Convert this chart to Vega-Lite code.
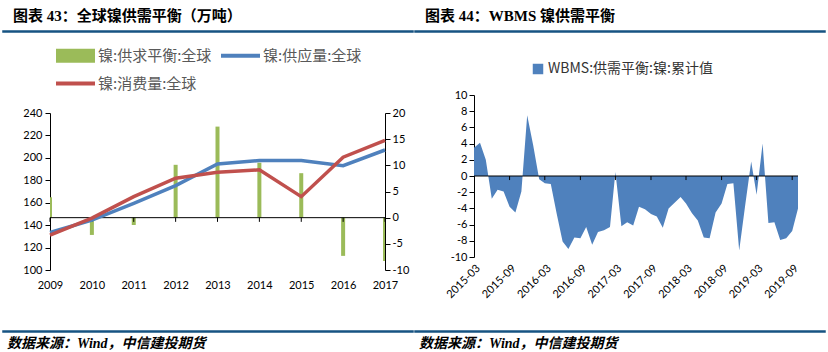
{
  "$schema": "https://vega.github.io/schema/vega-lite/v6.json",
  "background": "white",
  "padding": {"left": 2, "top": 8, "right": 0, "bottom": 0},
  "config": {
    "view": {"stroke": null},
    "axis": {"labelFont": "Lato", "labelFontSize": 11, "labelColor": "#000000", "domainColor": "#000000", "tickColor": "#000000", "grid": false, "domainWidth": 1, "tickWidth": 1},
    "title": {"font": "Liberation Serif, Noto Sans CJK SC", "fontSize": 15, "fontWeight": "bold", "color": "#000000", "anchor": "start"}
  },
  "spacing": 0,
  "resolve": {"scale": {"color": "independent"}, "legend": {"color": "independent"}},
  "hconcat": [
    {
      "spacing": 40,
      "resolve": {"scale": {"color": "independent"}, "legend": {"color": "independent"}},
      "vconcat": [
        {
          "spacing": 3,
          "resolve": {"scale": {"color": "independent"}, "legend": {"color": "independent"}},
          "vconcat": [
            {
              "width": 410, "height": 1,
              "data": {"values": []},
              "mark": {"type": "rule"},
              "encoding": {},
              "view": {"stroke": "#165382", "strokeWidth": 1.5, "fill": "#165382"},
              "title": {"text": "图表 43：全球镍供需平衡（万吨）", "dx": 10, "offset": 7}
            },
            {
              "spacing": 0,
              "resolve": {"scale": {"color": "independent"}, "legend": {"color": "independent"}},
              "hconcat": [
                {"width": 1, "height": 1, "data": {"values": []}, "mark": {"type": "rule"}, "encoding": {}},
                {
                  "width": 335, "height": 157,
                  "data": {"values": [
                    {"year": 2009, "series": "镍:供求平衡:全球", "value": 3.9},
                    {"year": 2010, "series": "镍:供求平衡:全球", "value": -3.3},
                    {"year": 2011, "series": "镍:供求平衡:全球", "value": -1.4},
                    {"year": 2012, "series": "镍:供求平衡:全球", "value": 10.1},
                    {"year": 2013, "series": "镍:供求平衡:全球", "value": 17.4},
                    {"year": 2014, "series": "镍:供求平衡:全球", "value": 10.5},
                    {"year": 2015, "series": "镍:供求平衡:全球", "value": 8.5},
                    {"year": 2016, "series": "镍:供求平衡:全球", "value": -7.3},
                    {"year": 2017, "series": "镍:供求平衡:全球", "value": -8.3},
                    {"year": 2009, "series": "镍:供应量:全球", "value": 133.4},
                    {"year": 2010, "series": "镍:供应量:全球", "value": 144.5},
                    {"year": 2011, "series": "镍:供应量:全球", "value": 159.4},
                    {"year": 2012, "series": "镍:供应量:全球", "value": 175.2},
                    {"year": 2013, "series": "镍:供应量:全球", "value": 194.6},
                    {"year": 2014, "series": "镍:供应量:全球", "value": 197.6},
                    {"year": 2015, "series": "镍:供应量:全球", "value": 197.6},
                    {"year": 2016, "series": "镍:供应量:全球", "value": 193.0},
                    {"year": 2017, "series": "镍:供应量:全球", "value": 207.0},
                    {"year": 2009, "series": "镍:消费量:全球", "value": 131.0},
                    {"year": 2010, "series": "镍:消费量:全球", "value": 146.3},
                    {"year": 2011, "series": "镍:消费量:全球", "value": 165.4},
                    {"year": 2012, "series": "镍:消费量:全球", "value": 181.8},
                    {"year": 2013, "series": "镍:消费量:全球", "value": 187.2},
                    {"year": 2014, "series": "镍:消费量:全球", "value": 189.3},
                    {"year": 2015, "series": "镍:消费量:全球", "value": 165.4},
                    {"year": 2016, "series": "镍:消费量:全球", "value": 200.6},
                    {"year": 2017, "series": "镍:消费量:全球", "value": 215.5}
                  ]},
                  "layer": [
                    {
                      "layer": [
                        {
                          "transform": [{"filter": "datum.series === '镍:供求平衡:全球'"}],
                          "mark": {"type": "bar", "size": 4, "clip": true},
                          "encoding": {
                            "x": {"field": "year", "type": "ordinal", "scale": {"type": "point", "padding": 0}, "axis": {"domain": false, "ticks": false, "labelAngle": 0, "labelPadding": 9, "title": null}},
                            "y": {"field": "value", "type": "quantitative", "scale": {"domain": [-10, 20], "nice": false, "zero": false}, "axis": {"orient": "right", "values": [-10, -5, 0, 5, 10, 15, 20], "labelExpr": "'' + datum.value", "tickSize": 5, "labelPadding": 2, "title": null}},
                            "color": {
                              "field": "series", "type": "nominal",
                              "scale": {"domain": ["镍:供求平衡:全球", "镍:供应量:全球", "镍:消费量:全球"], "range": ["#9BBB59", "#4F81BD", "#C0504D"]},
                              "legend": {
                                "title": " ", "titleOrient": "left", "titleFontSize": 1, "titlePadding": 6,
                                "orient": "top", "direction": "horizontal", "offset": 21, "columns": 2, "columnPadding": 9, "rowPadding": -10,
                                "symbolSize": 1521, "labelFont": "Noto Sans CJK SC", "labelFontSize": 15, "labelColor": "#595959", "labelOffset": 3, "labelLimit": 300, "padding": 0,
                                "encode": {"symbols": {"update": {
                                  "shape": {"signal": "datum.value === '镍:供求平衡:全球' ? 'M-1,-0.36H1V0.36H-1Z' : 'M-1,-0.1H1V0.1H-1Z'"},
                                  "fill": {"signal": "datum.value === '镍:供求平衡:全球' ? '#9BBB59' : (datum.value === '镍:供应量:全球' ? '#4F81BD' : '#C0504D')"},
                                  "stroke": {"value": "transparent"},
                                  "strokeWidth": {"value": 0},
                                  "opacity": {"value": 1}
                                }}}
                              }
                            }
                          }
                        },
                        {
                          "data": {"values": [{"zero": 0}]},
                          "mark": {"type": "rule", "color": "#000000", "strokeWidth": 1},
                          "encoding": {"y": {"field": "zero", "type": "quantitative", "scale": {"domain": [-10, 20], "nice": false, "zero": false}, "axis": {"orient": "right", "values": [-10, -5, 0, 5, 10, 15, 20], "labelExpr": "'' + datum.value", "tickSize": 5, "labelPadding": 2, "title": null}}}
                        },
                        {
                          "transform": [{"filter": "datum.series === '镍:供求平衡:全球'"}],
                          "mark": {"type": "rule", "color": "#000000", "strokeWidth": 1},
                          "encoding": {
                            "x": {"field": "year", "type": "ordinal", "scale": {"type": "point", "padding": 0}, "axis": {"domain": false, "ticks": false, "labelAngle": 0, "labelPadding": 9, "title": null}},
                            "y": {"datum": 0, "type": "quantitative", "scale": {"domain": [-10, 20], "nice": false, "zero": false}, "axis": {"orient": "right", "values": [-10, -5, 0, 5, 10, 15, 20], "labelExpr": "'' + datum.value", "tickSize": 5, "labelPadding": 2, "title": null}},
                            "y2": {"datum": -0.8}
                          }
                        }
                      ]
                    },
                    {
                      "transform": [{"filter": "datum.series !== '镍:供求平衡:全球'"}],
                      "mark": {"type": "line", "strokeWidth": 3.5},
                      "encoding": {
                        "x": {"field": "year", "type": "ordinal", "scale": {"type": "point", "padding": 0}, "axis": {"domain": false, "ticks": false, "labelAngle": 0, "labelPadding": 9, "title": null}},
                        "y": {"field": "value", "type": "quantitative", "scale": {"domain": [100, 240], "nice": false, "zero": false}, "axis": {"orient": "left", "values": [100, 120, 140, 160, 180, 200, 220, 240], "tickSize": 5, "labelPadding": 3, "minExtent": 46, "title": null}},
                        "color": {
                          "field": "series", "type": "nominal",
                          "scale": {"domain": ["镍:供求平衡:全球", "镍:供应量:全球", "镍:消费量:全球"], "range": ["#9BBB59", "#4F81BD", "#C0504D"]},
                          "legend": {
                            "title": " ", "titleOrient": "left", "titleFontSize": 1, "titlePadding": 6,
                            "orient": "top", "direction": "horizontal", "offset": 21, "columns": 2, "columnPadding": 9, "rowPadding": -10,
                            "symbolSize": 1521, "labelFont": "Noto Sans CJK SC", "labelFontSize": 15, "labelColor": "#595959", "labelOffset": 3, "labelLimit": 300, "padding": 0,
                            "encode": {"symbols": {"update": {
                              "shape": {"signal": "datum.value === '镍:供求平衡:全球' ? 'M-1,-0.36H1V0.36H-1Z' : 'M-1,-0.1H1V0.1H-1Z'"},
                              "fill": {"signal": "datum.value === '镍:供求平衡:全球' ? '#9BBB59' : (datum.value === '镍:供应量:全球' ? '#4F81BD' : '#C0504D')"},
                              "stroke": {"value": "transparent"},
                              "strokeWidth": {"value": 0},
                              "opacity": {"value": 1}
                            }}}
                          }
                        }
                      }
                    }
                  ],
                  "resolve": {"scale": {"y": "independent"}, "axis": {"y": "independent"}}
                }
              ]
            }
          ]
        },
        {
          "width": 410, "height": 1,
          "data": {"values": []},
          "mark": {"type": "rule"},
          "encoding": {},
          "view": {"stroke": "#165382", "strokeWidth": 1.5, "fill": "#165382"},
          "title": {"text": "数据来源：Wind，中信建投期货", "orient": "bottom", "dx": 4, "offset": 5, "fontSize": 14, "fontStyle": "italic"}
        }
      ]
    },
    {
      "spacing": 30,
      "resolve": {"scale": {"color": "independent"}, "legend": {"color": "independent"}},
      "vconcat": [
        {
          "spacing": 29,
          "resolve": {"scale": {"color": "independent"}, "legend": {"color": "independent"}},
          "vconcat": [
            {
              "width": 410, "height": 1,
              "data": {"values": []},
              "mark": {"type": "rule"},
              "encoding": {},
              "view": {"stroke": "#165382", "strokeWidth": 1.5, "fill": "#165382"},
              "title": {"text": "图表 44：WBMS 镍供需平衡", "dx": 10, "offset": 7}
            },
            {
              "spacing": 0,
              "resolve": {"scale": {"color": "independent"}, "legend": {"color": "independent"}},
              "hconcat": [
                {"width": 1, "height": 1, "data": {"values": []}, "mark": {"type": "rule"}, "encoding": {}},
                {
                  "width": 324, "height": 162,
                  "layer": [
                    {
                      "data": {"values": [
                        {"date": "2015-03", "value": 3.5, "series": "WBMS:供需平衡:镍:累计值"},
                        {"date": "2015-04", "value": 4.1, "series": "WBMS:供需平衡:镍:累计值"},
                        {"date": "2015-05", "value": 2.0, "series": "WBMS:供需平衡:镍:累计值"},
                        {"date": "2015-06", "value": -2.8, "series": "WBMS:供需平衡:镍:累计值"},
                        {"date": "2015-07", "value": -1.7, "series": "WBMS:供需平衡:镍:累计值"},
                        {"date": "2015-08", "value": -1.9, "series": "WBMS:供需平衡:镍:累计值"},
                        {"date": "2015-09", "value": -3.8, "series": "WBMS:供需平衡:镍:累计值"},
                        {"date": "2015-10", "value": -4.5, "series": "WBMS:供需平衡:镍:累计值"},
                        {"date": "2015-11", "value": -1.9, "series": "WBMS:供需平衡:镍:累计值"},
                        {"date": "2015-12", "value": 7.5, "series": "WBMS:供需平衡:镍:累计值"},
                        {"date": "2016-01", "value": 3.8, "series": "WBMS:供需平衡:镍:累计值"},
                        {"date": "2016-02", "value": -0.4, "series": "WBMS:供需平衡:镍:累计值"},
                        {"date": "2016-03", "value": -0.9, "series": "WBMS:供需平衡:镍:累计值"},
                        {"date": "2016-04", "value": -1.0, "series": "WBMS:供需平衡:镍:累计值"},
                        {"date": "2016-05", "value": -4.6, "series": "WBMS:供需平衡:镍:累计值"},
                        {"date": "2016-06", "value": -8.1, "series": "WBMS:供需平衡:镍:累计值"},
                        {"date": "2016-07", "value": -9.0, "series": "WBMS:供需平衡:镍:累计值"},
                        {"date": "2016-08", "value": -7.6, "series": "WBMS:供需平衡:镍:累计值"},
                        {"date": "2016-09", "value": -7.7, "series": "WBMS:供需平衡:镍:累计值"},
                        {"date": "2016-10", "value": -6.3, "series": "WBMS:供需平衡:镍:累计值"},
                        {"date": "2016-11", "value": -8.5, "series": "WBMS:供需平衡:镍:累计值"},
                        {"date": "2016-12", "value": -6.9, "series": "WBMS:供需平衡:镍:累计值"},
                        {"date": "2017-01", "value": -6.7, "series": "WBMS:供需平衡:镍:累计值"},
                        {"date": "2017-02", "value": -6.3, "series": "WBMS:供需平衡:镍:累计值"},
                        {"date": "2017-03", "value": 0.5, "series": "WBMS:供需平衡:镍:累计值"},
                        {"date": "2017-04", "value": -6.2, "series": "WBMS:供需平衡:镍:累计值"},
                        {"date": "2017-05", "value": -5.7, "series": "WBMS:供需平衡:镍:累计值"},
                        {"date": "2017-06", "value": -6.1, "series": "WBMS:供需平衡:镍:累计值"},
                        {"date": "2017-07", "value": -3.8, "series": "WBMS:供需平衡:镍:累计值"},
                        {"date": "2017-08", "value": -4.1, "series": "WBMS:供需平衡:镍:累计值"},
                        {"date": "2017-09", "value": -4.7, "series": "WBMS:供需平衡:镍:累计值"},
                        {"date": "2017-10", "value": -5.0, "series": "WBMS:供需平衡:镍:累计值"},
                        {"date": "2017-11", "value": -6.4, "series": "WBMS:供需平衡:镍:累计值"},
                        {"date": "2017-12", "value": -4.0, "series": "WBMS:供需平衡:镍:累计值"},
                        {"date": "2018-01", "value": -3.3, "series": "WBMS:供需平衡:镍:累计值"},
                        {"date": "2018-02", "value": -2.6, "series": "WBMS:供需平衡:镍:累计值"},
                        {"date": "2018-03", "value": -3.4, "series": "WBMS:供需平衡:镍:累计值"},
                        {"date": "2018-04", "value": -4.6, "series": "WBMS:供需平衡:镍:累计值"},
                        {"date": "2018-05", "value": -5.5, "series": "WBMS:供需平衡:镍:累计值"},
                        {"date": "2018-06", "value": -7.6, "series": "WBMS:供需平衡:镍:累计值"},
                        {"date": "2018-07", "value": -7.7, "series": "WBMS:供需平衡:镍:累计值"},
                        {"date": "2018-08", "value": -4.5, "series": "WBMS:供需平衡:镍:累计值"},
                        {"date": "2018-09", "value": -3.4, "series": "WBMS:供需平衡:镍:累计值"},
                        {"date": "2018-10", "value": -1.0, "series": "WBMS:供需平衡:镍:累计值"},
                        {"date": "2018-11", "value": -0.9, "series": "WBMS:供需平衡:镍:累计值"},
                        {"date": "2018-12", "value": -9.2, "series": "WBMS:供需平衡:镍:累计值"},
                        {"date": "2019-01", "value": -3.6, "series": "WBMS:供需平衡:镍:累计值"},
                        {"date": "2019-02", "value": 1.8, "series": "WBMS:供需平衡:镍:累计值"},
                        {"date": "2019-03", "value": -2.3, "series": "WBMS:供需平衡:镍:累计值"},
                        {"date": "2019-04", "value": 4.0, "series": "WBMS:供需平衡:镍:累计值"},
                        {"date": "2019-05", "value": -5.8, "series": "WBMS:供需平衡:镍:累计值"},
                        {"date": "2019-06", "value": -5.7, "series": "WBMS:供需平衡:镍:累计值"},
                        {"date": "2019-07", "value": -7.9, "series": "WBMS:供需平衡:镍:累计值"},
                        {"date": "2019-08", "value": -7.7, "series": "WBMS:供需平衡:镍:累计值"},
                        {"date": "2019-09", "value": -6.8, "series": "WBMS:供需平衡:镍:累计值"},
                        {"date": "2019-10", "value": -4.0, "series": "WBMS:供需平衡:镍:累计值"}
                      ]},
                      "mark": {"type": "area", "opacity": 1, "fillOpacity": 1},
                      "encoding": {
                        "x": {
                          "field": "date", "type": "temporal",
                          "scale": {"type": "utc", "domain": [{"year": 2015, "month": 3, "date": 1, "utc": true}, {"year": 2019, "month": 10, "date": 1, "utc": true}]},
                          "axis": {
                            "domain": false, "ticks": false, "labelAngle": -45, "labelPadding": 5, "labelOverlap": false, "format": "%Y-%m", "title": null,
                            "values": [
                              {"year": 2015, "month": 3, "date": 1, "utc": true},
                              {"year": 2015, "month": 9, "date": 1, "utc": true},
                              {"year": 2016, "month": 3, "date": 1, "utc": true},
                              {"year": 2016, "month": 9, "date": 1, "utc": true},
                              {"year": 2017, "month": 3, "date": 1, "utc": true},
                              {"year": 2017, "month": 9, "date": 1, "utc": true},
                              {"year": 2018, "month": 3, "date": 1, "utc": true},
                              {"year": 2018, "month": 9, "date": 1, "utc": true},
                              {"year": 2019, "month": 3, "date": 1, "utc": true},
                              {"year": 2019, "month": 9, "date": 1, "utc": true}
                            ]
                          }
                        },
                        "y": {"field": "value", "type": "quantitative", "scale": {"domain": [-10, 10], "nice": false}, "axis": {"values": [-10, -8, -6, -4, -2, 0, 2, 4, 6, 8, 10], "labelExpr": "'' + datum.value", "tickSize": 5, "labelPadding": 2, "minExtent": 57.5, "title": null}},
                        "color": {
                          "field": "series", "type": "nominal",
                          "scale": {"range": ["#4F81BD"]},
                          "legend": {"title": " ", "titleOrient": "left", "titleFontSize": 1, "titlePadding": 57, "orient": "top", "direction": "horizontal", "offset": 19, "symbolType": "square", "symbolSize": 110, "symbolStrokeWidth": 0, "labelFont": "Noto Sans CJK SC", "labelFontSize": 14, "labelColor": "#333333", "labelOffset": 3, "labelLimit": 400, "padding": 0}
                        }
                      }
                    },
                    {
                      "data": {"values": [{"zero": 0}]},
                      "mark": {"type": "rule", "color": "#000000", "strokeWidth": 1},
                      "encoding": {"y": {"field": "zero", "type": "quantitative", "scale": {"domain": [-10, 10], "nice": false}, "axis": {"values": [-10, -8, -6, -4, -2, 0, 2, 4, 6, 8, 10], "labelExpr": "'' + datum.value", "tickSize": 5, "labelPadding": 2, "minExtent": 57.5, "title": null}}}
                    },
                    {
                      "data": {"values": [
                        {"date": "2015-09"}, {"date": "2016-03"}, {"date": "2016-09"}, {"date": "2017-03"}, {"date": "2017-09"},
                        {"date": "2018-03"}, {"date": "2018-09"}, {"date": "2019-03"}, {"date": "2019-09"}
                      ]},
                      "mark": {"type": "rule", "color": "#000000", "strokeWidth": 1},
                      "encoding": {
                        "x": {
                          "field": "date", "type": "temporal",
                          "scale": {"type": "utc", "domain": [{"year": 2015, "month": 3, "date": 1, "utc": true}, {"year": 2019, "month": 10, "date": 1, "utc": true}]},
                          "axis": {
                            "domain": false, "ticks": false, "labelAngle": -45, "labelPadding": 5, "labelOverlap": false, "format": "%Y-%m", "title": null,
                            "values": [
                              {"year": 2015, "month": 3, "date": 1, "utc": true},
                              {"year": 2015, "month": 9, "date": 1, "utc": true},
                              {"year": 2016, "month": 3, "date": 1, "utc": true},
                              {"year": 2016, "month": 9, "date": 1, "utc": true},
                              {"year": 2017, "month": 3, "date": 1, "utc": true},
                              {"year": 2017, "month": 9, "date": 1, "utc": true},
                              {"year": 2018, "month": 3, "date": 1, "utc": true},
                              {"year": 2018, "month": 9, "date": 1, "utc": true},
                              {"year": 2019, "month": 3, "date": 1, "utc": true},
                              {"year": 2019, "month": 9, "date": 1, "utc": true}
                            ]
                          }
                        },
                        "y": {"datum": 0, "type": "quantitative", "scale": {"domain": [-10, 10], "nice": false}, "axis": {"values": [-10, -8, -6, -4, -2, 0, 2, 4, 6, 8, 10], "labelExpr": "'' + datum.value", "tickSize": 5, "labelPadding": 2, "minExtent": 57.5, "title": null}},
                        "y2": {"datum": -0.5}
                      }
                    }
                  ]
                }
              ]
            }
          ]
        },
        {
          "width": 410, "height": 1,
          "data": {"values": []},
          "mark": {"type": "rule"},
          "encoding": {},
          "view": {"stroke": "#165382", "strokeWidth": 1.5, "fill": "#165382"},
          "title": {"text": "数据来源：Wind，中信建投期货", "orient": "bottom", "dx": 4, "offset": 5, "fontSize": 14, "fontStyle": "italic"}
        }
      ]
    }
  ]
}
